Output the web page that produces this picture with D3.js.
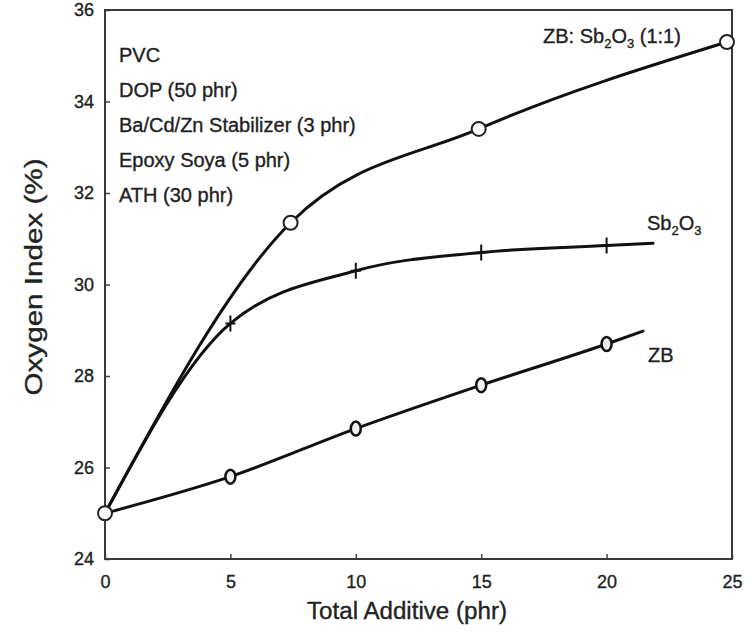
<!DOCTYPE html>
<html lang="en">
<head>
  <meta charset="UTF-8">
  <title>Oxygen Index vs Total Additive</title>
  <script src="https://d3js.org/d3.v7.min.js"></script>
  <style>
    body {
      margin: 0;
      padding: 0;
      background: #fff;
    }

    svg text {
      font-family: "Liberation Sans", Arial, Helvetica, sans-serif;
      fill: #222;
      stroke: #222;
      stroke-width: 0.35px;
    }
  </style>
</head>
<body>
  <svg id="chart"></svg>
  <script>
    // axis ticks
    const xTicks = [0, 5, 10, 15, 20, 25];
    const yTicks = [24, 26, 28, 30, 32, 34, 36];

    // ZB : Sb2O3 (1:1) blend, open circles
    const blendX = [0, 7.4, 14.9, 24.8];
    const blendY = [25, 31.35, 33.4, 35.3];

    // Sb2O3 alone, "+" markers (last point is the line end, no marker)
    const sbX = [0, 5, 10, 15, 20, 21.85];
    const sbY = [25, 29.15, 30.3, 30.7, 30.85, 30.9];
    const sbMarked = [5, 10, 15, 20];

    // zinc borate alone, small "o" markers
    const zbX = [0, 5, 10, 15, 20, 21.45];
    const zbY = [25, 25.8, 26.85, 27.8, 28.7, 28.98];
    const zbMarked = [5, 10, 15, 20];

    const formulation = [
      "PVC",
      "DOP (50 phr)",
      "Ba/Cd/Zn Stabilizer (3 phr)",
      "Epoxy Soya (5 phr)",
      "ATH (30 phr)"
    ];

    const width = 756;
    const height = 636;
    const margin = { top: 10, right: 24, bottom: 77, left: 105 };

    const svg = d3.select("#chart")
      .attr("width", width)
      .attr("height", height);

    svg.append("rect")
      .attr("width", width)
      .attr("height", height)
      .attr("fill", "white");

    const x = d3.scaleLinear()
      .domain([0, 25])
      .range([margin.left, width - margin.right]);

    const y = d3.scaleLinear()
      .domain([24, 36])
      .range([height - margin.bottom, margin.top]);

    const zip = (xs, ys) => xs.map((v, i) => [v, ys[i]]);
    const blend = zip(blendX, blendY);
    const sb = zip(sbX, sbY);
    const zb = zip(zbX, zbY);

    // axes, ticks pointing inward
    const xAxis = svg.append("g")
      .attr("transform", `translate(0,${y(24)})`)
      .call(d3.axisBottom(x).tickValues(xTicks).tickSizeInner(-5).tickSizeOuter(0).tickPadding(16));

    const yAxis = svg.append("g")
      .attr("transform", `translate(${x(0)},0)`)
      .call(d3.axisLeft(y).tickValues(yTicks).tickSizeInner(-5).tickSizeOuter(0).tickPadding(11));

    [xAxis, yAxis].forEach(a => {
      a.select(".domain").remove();
      a.selectAll(".tick line").attr("stroke", "#444").attr("stroke-width", 1.5);
      a.selectAll(".tick text")
        .attr("font-size", 18)
        .attr("fill", "#222");
    });

    // frame around the plot
    svg.append("rect")
      .attr("x", x(0))
      .attr("y", y(36))
      .attr("width", x(25) - x(0))
      .attr("height", y(24) - y(36))
      .attr("fill", "none")
      .attr("stroke", "#3a3a3a")
      .attr("stroke-width", 2);

    const line = d3.line()
      .x(d => x(d[0]))
      .y(d => y(d[1]))
      .curve(d3.curveMonotoneX);

    [blend, sb, zb].forEach(s => {
      svg.append("path")
        .attr("d", line(s))
        .attr("fill", "none")
        .attr("stroke", "#111")
        .attr("stroke-width", 3)
        .attr("stroke-linecap", "round");
    });

    // Sb2O3 "+" markers
    svg.append("g")
      .selectAll("path")
      .data(sb.filter(d => sbMarked.includes(d[0])))
      .join("path")
      .attr("d", d => `M${x(d[0])},${y(d[1]) - 8}V${y(d[1]) + 8}M${x(d[0]) - 5},${y(d[1])}H${x(d[0]) + 5}`)
      .attr("stroke", "#111")
      .attr("stroke-width", 2);

    // ZB small "o" markers
    svg.append("g")
      .selectAll("ellipse")
      .data(zb.filter(d => zbMarked.includes(d[0])))
      .join("ellipse")
      .attr("cx", d => x(d[0]))
      .attr("cy", d => y(d[1]))
      .attr("rx", 5)
      .attr("ry", 7)
      .attr("fill", "#eee")
      .attr("stroke", "#111")
      .attr("stroke-width", 2.5);

    // blend open circles (includes the shared start point)
    svg.append("g")
      .selectAll("circle")
      .data(blend)
      .join("circle")
      .attr("cx", d => x(d[0]))
      .attr("cy", d => y(d[1]))
      .attr("r", 7)
      .attr("fill", "white")
      .attr("stroke", "#222")
      .attr("stroke-width", 2);

    // formulation text block
    svg.append("g")
      .selectAll("text")
      .data(formulation)
      .join("text")
      .attr("x", 119)
      .attr("y", (d, i) => 62 + i * 35)
      .attr("font-size", 20)
      .text(d => d);

    // series labels with subscripts
    function chemLabel(px, py, parts) {
      const t = svg.append("text")
        .attr("x", px)
        .attr("y", py)
        .attr("font-size", 20);
      parts.forEach(p => {
        const ts = t.append("tspan").text(p[0]);
        if (p[1]) ts.attr("font-size", 13).attr("dy", 5);
        else if (p[2]) ts.attr("dy", -5);
      });
    }

    chemLabel(543, 43, [["ZB: Sb"], ["2", true], ["O", false, true], ["3", true], [" (1:1)", false, true]]);
    chemLabel(647, 230, [["Sb"], ["2", true], ["O", false, true], ["3", true]]);
    chemLabel(648, 362, [["ZB"]]);

    // axis titles
    svg.append("text")
      .attr("x", 407)
      .attr("y", 619)
      .attr("text-anchor", "middle")
      .attr("font-size", 23)
      .attr("textLength", 200)
      .attr("lengthAdjust", "spacingAndGlyphs")
      .text("Total Additive (phr)");

    svg.append("text")
      .attr("transform", "translate(42,277) rotate(-90)")
      .attr("text-anchor", "middle")
      .attr("font-size", 23)
      .attr("textLength", 237)
      .attr("lengthAdjust", "spacingAndGlyphs")
      .text("Oxygen Index (%)");
  </script>
</body>
</html>
